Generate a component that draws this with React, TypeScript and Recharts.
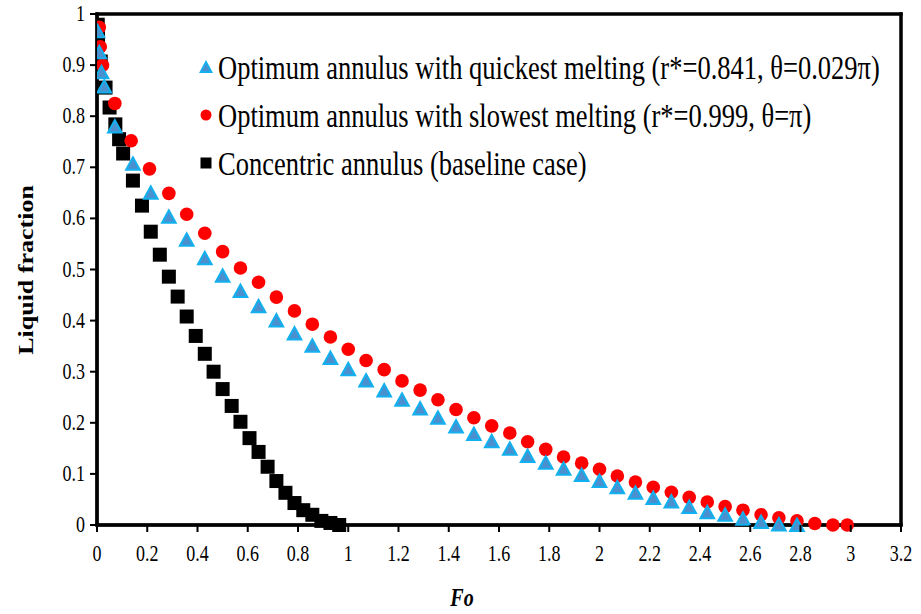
import * as Recharts from "recharts";
import { Scatter, ScatterChart, XAxis, YAxis } from "recharts";

// Fo (x) and liquid fraction (y) for each case.
const quickFo = [
  0.002, 0.009, 0.018, 0.029, 0.071, 0.143, 0.214, 0.286, 0.357, 0.429, 0.5, 0.571, 0.643, 0.714,
  0.786, 0.857, 0.929, 1.0, 1.071, 1.143, 1.214, 1.286, 1.357, 1.429, 1.5, 1.571, 1.643, 1.714,
  1.786, 1.857, 1.929, 2.0, 2.071, 2.143, 2.214, 2.286, 2.357, 2.429, 2.5, 2.571, 2.643, 2.714,
  2.786,
];
const quickLf = [
  0.966, 0.925, 0.886, 0.858, 0.78, 0.707, 0.65, 0.603, 0.558, 0.522, 0.488, 0.458, 0.428, 0.4,
  0.375, 0.351, 0.327, 0.305, 0.283, 0.263, 0.245, 0.228, 0.21, 0.193, 0.178, 0.164, 0.149, 0.135,
  0.122, 0.11, 0.098, 0.086, 0.074, 0.063, 0.053, 0.046, 0.035, 0.025, 0.02, 0.012, 0.006, 0.001,
  0.0,
];

const slowFo = [
  0.009, 0.013, 0.022, 0.071, 0.136, 0.209, 0.286, 0.357, 0.429, 0.5, 0.571, 0.643, 0.714, 0.786,
  0.857, 0.929, 1.0, 1.071, 1.143, 1.214, 1.286, 1.357, 1.429, 1.5, 1.571, 1.643, 1.714, 1.786,
  1.857, 1.929, 2.0, 2.071, 2.143, 2.214, 2.286, 2.357, 2.429, 2.5, 2.571, 2.643, 2.714, 2.786,
  2.857, 2.929, 2.986,
];
const slowLf = [
  0.974, 0.936, 0.9, 0.825, 0.752, 0.697, 0.649, 0.608, 0.571, 0.535, 0.503, 0.475, 0.446, 0.419,
  0.393, 0.368, 0.344, 0.322, 0.304, 0.282, 0.264, 0.245, 0.226, 0.21, 0.194, 0.18, 0.163, 0.148,
  0.133, 0.121, 0.109, 0.096, 0.084, 0.074, 0.064, 0.054, 0.045, 0.036, 0.029, 0.02, 0.014, 0.008,
  0.003, 0.0, 0.0,
];

const baseFo = [
  0.003, 0.004, 0.015, 0.034, 0.05, 0.073, 0.088, 0.104, 0.143, 0.179, 0.214, 0.25, 0.286, 0.321,
  0.357, 0.393, 0.429, 0.464, 0.5, 0.536, 0.571, 0.607, 0.643, 0.679, 0.714, 0.75, 0.786, 0.821,
  0.857, 0.893, 0.929, 0.964,
];
const baseLf = [
  0.979, 0.952, 0.907, 0.856, 0.817, 0.784, 0.755, 0.727, 0.674, 0.625, 0.574, 0.529, 0.486,
  0.447, 0.408, 0.37, 0.335, 0.3, 0.266, 0.233, 0.202, 0.17, 0.143, 0.114, 0.086, 0.063, 0.043,
  0.029, 0.02, 0.008, 0.004, 0.0,
];

const xTicks = [0, 0.2, 0.4, 0.6, 0.8, 1, 1.2, 1.4, 1.6, 1.8, 2, 2.2, 2.4, 2.6, 2.8, 3, 3.2];
const yTicks = [0, 0.1, 0.2, 0.3, 0.4, 0.5, 0.6, 0.7, 0.8, 0.9, 1];

const quickLabel = "Optimum annulus with quickest melting (r*=0.841, \u03b8=0.029\u03c0)";
const slowLabel = "Optimum annulus with slowest melting (r*=0.999, \u03b8=\u03c0)";
const baseLabel = "Concentric annulus (baseline case)";

const toPoints = (xs: number[], ys: number[]) => xs.map((fo, i) => ({ fo, lf: ys[i] }));

const FONT = "'Liberation Serif', 'Times New Roman', serif";
const STRETCH = 1.3; // the original figure is stretched vertically
const TICK = 7;
const MARGIN = { top: 14, right: 20, bottom: 29, left: 0 };
const Y_WIDTH = 97;
const X_HEIGHT = 60;
const W = 921;
const H = 614;

// plot box, taken from the chart when the hook is there, else from the margins
const usePlotAreaSafe: () => any = (Recharts as any).usePlotArea ?? (() => undefined);
const FALLBACK_AREA = {
  x: MARGIN.left + Y_WIDTH,
  y: MARGIN.top,
  width: W - MARGIN.left - MARGIN.right - Y_WIDTH,
  height: H - MARGIN.top - MARGIN.bottom - X_HEIGHT,
};

function frameRects(a: { x: number; y: number; width: number; height: number }, t: number) {
  return [
    { x: a.x - t / 2, y: a.y - t / 2, width: a.width + t, height: t },
    { x: a.x - t / 2, y: a.y + a.height - t / 2, width: a.width + t, height: t },
    { x: a.x - t / 2, y: a.y - t / 2, width: t, height: a.height + t },
    { x: a.x + a.width - t / 2, y: a.y - t / 2, width: t, height: a.height + t },
  ];
}

function Frame() {
  const a = usePlotAreaSafe() ?? FALLBACK_AREA;
  return (
    <g fill="#000">
      {frameRects(a, 3).map((r, i) => (
        <rect key={i} {...r} />
      ))}
    </g>
  );
}

const TriangleMark = ({ cx, cy }: any) => (
  <g>
    <path d={`M${cx},${cy - 8.5} L${cx + 8.5},${cy + 7} L${cx - 8.5},${cy + 7} Z`} fill="#12b0ee" />
    <path d={`M${cx},${cy - 4.5} L${cx + 5},${cy + 5} L${cx - 5},${cy + 5} Z`} fill="#4b8fcf" />
  </g>
);
const CircleMark = ({ cx, cy }: any) => <circle cx={cx} cy={cy} r={6.8} fill="#ff0000" />;
const SquareMark = ({ cx, cy }: any) => (
  <rect x={cx - 7} y={cy - 7} width={14} height={14} fill="#000000" />
);

const XTick = ({ x, y, payload }: any) => (
  <g>
    <rect x={x - 1} y={y - TICK} width={2} height={TICK} fill="#000" />
    <text
      transform={`translate(${x} ${y + 29}) scale(1 ${STRETCH})`}
      textAnchor="middle"
      fontFamily={FONT}
      fontSize={18}
      fill="#000"
    >
      {payload.value}
    </text>
  </g>
);

const YTick = ({ x, y, payload }: any) => (
  <g>
    <rect x={x} y={y - 1} width={TICK} height={2} fill="#000" />
    <text
      transform={`translate(${x - 5} ${y + 7}) scale(1 ${STRETCH})`}
      textAnchor="end"
      fontFamily={FONT}
      fontSize={18}
      fill="#000"
    >
      {payload.value}
    </text>
  </g>
);

const legendRows = [
  { label: quickLabel, mark: "triangle" },
  { label: slowLabel, mark: "circle" },
  { label: baseLabel, mark: "square" },
];

function LegendBox() {
  return (
    <div
      style={{
        position: "absolute",
        left: 198,
        top: 43,
        fontFamily: FONT,
        fontSize: 26.5,
        color: "#000",
        whiteSpace: "nowrap",
      }}
    >
      {legendRows.map((row) => (
        <div key={row.label} style={{ display: "flex", alignItems: "center", height: 48 }}>
          <svg width={16} height={16} style={{ marginRight: 4 }}>
            {row.mark === "triangle" && (
              <>
                <path d="M8,1 L15,14 L1,14 Z" fill="#12b0ee" />
                <path d="M8,5 L12,12 L4,12 Z" fill="#4b8fcf" />
              </>
            )}
            {row.mark === "circle" && <circle cx={8} cy={8} r={5.5} fill="#ff0000" />}
            {row.mark === "square" && <rect x={2.5} y={2.5} width={11} height={11} fill="#000" />}
          </svg>
          <span style={{ display: "inline-block", transform: `scaleY(${STRETCH})` }}>
            {row.label}
          </span>
        </div>
      ))}
    </div>
  );
}

export default function App() {
  return (
    <div style={{ position: "absolute", left: 0, top: 0, width: W, height: H, background: "#fff" }}>
      <ScatterChart width={W} height={H} margin={MARGIN}>
        <XAxis
          type="number"
          dataKey="fo"
          domain={[0, 3.2]}
          ticks={xTicks}
          interval={0}
          allowDataOverflow
          height={X_HEIGHT}
          stroke="#000"
          axisLine={{ stroke: "#000", strokeWidth: 3 }}
          tickLine={false}
          tickSize={TICK}
          tickMargin={0}
          tick={<XTick />}
        />
        <YAxis
          type="number"
          dataKey="lf"
          domain={[0, 1]}
          ticks={yTicks}
          interval={0}
          width={Y_WIDTH}
          stroke="#000"
          axisLine={{ stroke: "#000", strokeWidth: 3 }}
          tickLine={false}
          tickSize={TICK}
          tickMargin={0}
          tick={<YTick />}
        />
        {/* plain box as direct children, in case components are skipped */}
        {frameRects(FALLBACK_AREA, 3).map((r, i) => (
          <rect key={`box-${i}`} {...r} fill="#000" />
        ))}
        <Frame />
        <Scatter
          name={baseLabel}
          data={toPoints(baseFo, baseLf)}
          shape={<SquareMark />}
          isAnimationActive={false}
        />
        <Scatter
          name={slowLabel}
          data={toPoints(slowFo, slowLf)}
          shape={<CircleMark />}
          isAnimationActive={false}
        />
        <Scatter
          name={quickLabel}
          data={toPoints(quickFo, quickLf)}
          shape={<TriangleMark />}
          isAnimationActive={false}
        />
        <text
          transform={`translate(33 270) rotate(-90) scale(${STRETCH} 1)`}
          textAnchor="middle"
          fontFamily={FONT}
          fontWeight="bold"
          fontSize={20}
          fill="#000"
        >
          Liquid fraction
        </text>
        <text
          transform={`translate(462 606) scale(1 ${STRETCH})`}
          textAnchor="middle"
          fontFamily={FONT}
          fontWeight="bold"
          fontStyle="italic"
          fontSize={20}
          fill="#000"
        >
          Fo
        </text>
      </ScatterChart>
      <LegendBox />
    </div>
  );
}
